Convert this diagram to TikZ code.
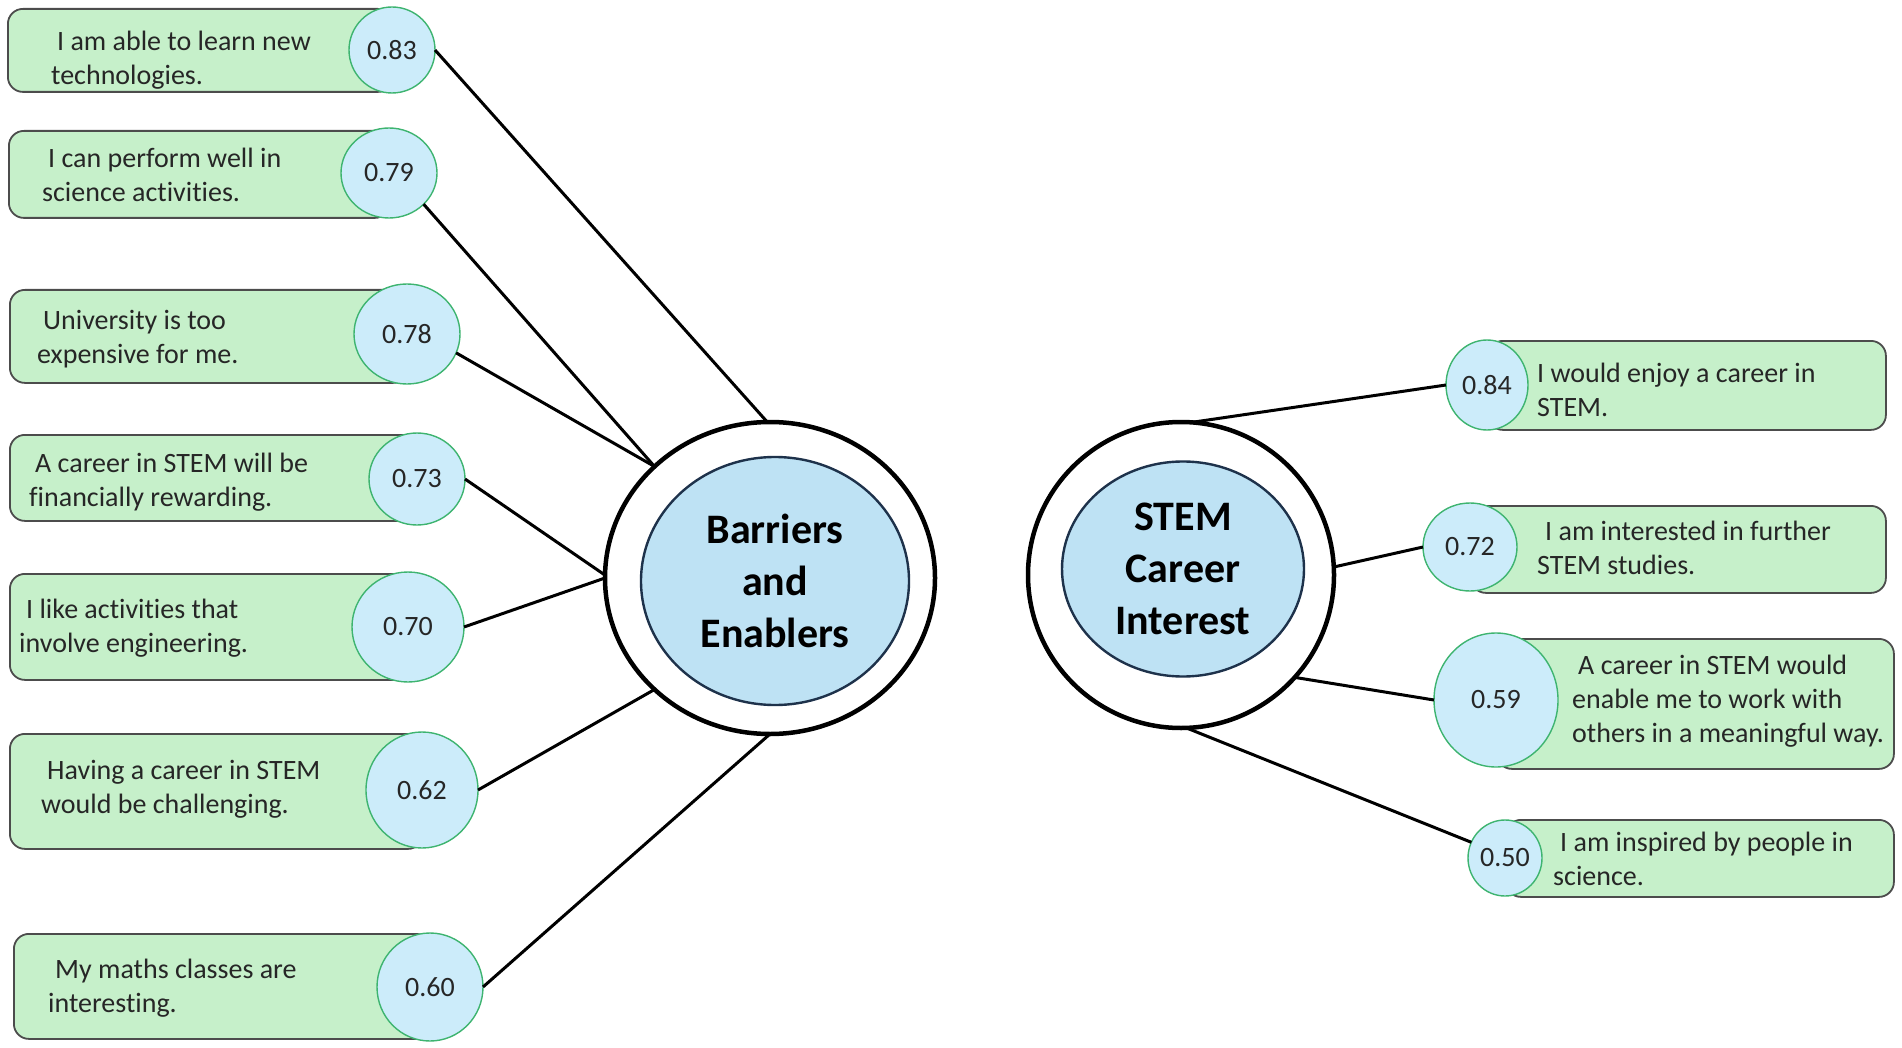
\documentclass[tikz,border=0pt]{standalone}
\usepackage{fontspec}
\setmainfont{Carlito}[Ligatures=NoCommon]
\usetikzlibrary{shapes.geometric}
\definecolor{itemgreen}{RGB}{198,240,202}
\definecolor{loadblue}{RGB}{204,236,250}
\definecolor{loadedge}{RGB}{62,180,112}
\definecolor{factorblue}{RGB}{190,226,244}
\definecolor{factoredge}{RGB}{30,50,75}
\tikzset{
  itembox/.style={draw=black!70, line width=1.8pt, fill=itemgreen,
    rounded corners=15pt, anchor=north west, inner sep=0pt},
  loading/.style={ellipse, draw=loadedge, line width=1.4pt, fill=loadblue,
    inner sep=0pt, outer sep=0pt, text=black!85,
    font=\fontsize{28}{34}\selectfont},
  itemtext/.style={anchor=west, align=left, inner sep=0pt, text=black!85,
    font=\fontsize{28}{34}\selectfont},
  factorout/.style={ellipse, draw=black, line width=4.5pt, fill=white,
    inner sep=0pt, outer sep=0pt},
  factorin/.style={ellipse, draw=factoredge, line width=2.4pt,
    fill=factorblue, inner sep=0pt, align=center,
    font=\bfseries\fontsize{42}{52}\selectfont},
  link/.style={line width=3pt, black}
}
\begin{document}
\begin{tikzpicture}[x=1pt, y=-1pt]
  \useasboundingbox (0,0) rectangle (1902,1048);
  % left items
  \node[itembox, minimum width=385pt, minimum height=83pt] (box1) at (7,8) {};
  \node[loading, minimum width=86pt, minimum height=86pt] (c83) at (392,50) {0.83};
  \node[itemtext] (txt1) at (51,60) {\hspace*{6pt}I am able to learn new\\technologies.};
  \node[itembox, minimum width=381pt, minimum height=87pt] (box2) at (8,130) {};
  \node[loading, minimum width=96pt, minimum height=90pt] (c79) at (389,173) {0.79};
  \node[itemtext] (txt2) at (42,175) {\hspace*{6pt}I can perform well in\\science activities.};
  \node[itembox, minimum width=398pt, minimum height=93pt] (box3) at (9,289) {};
  \node[loading, minimum width=106pt, minimum height=100pt] (c78) at (407,334) {0.78};
  \node[itemtext] (txt3) at (37,339) {\hspace*{6pt}University is too\\expensive for me.};
  \node[itembox, minimum width=408pt, minimum height=86pt] (box4) at (9,434) {};
  \node[loading, minimum width=96pt, minimum height=92pt] (c73) at (417,479) {0.73};
  \node[itemtext] (txt4) at (29,482) {\hspace*{6pt}A career in STEM will be\\financially rewarding.};
  \node[itembox, minimum width=399pt, minimum height=106pt] (box5) at (9,573) {};
  \node[loading, minimum width=112pt, minimum height=110pt] (c70) at (408,627) {0.70};
  \node[itemtext] (txt5) at (19,628) {\hspace*{7pt}I like activities that\\involve engineering.};
  \node[itembox, minimum width=413pt, minimum height=115pt] (box6) at (9,733) {};
  \node[loading, minimum width=112pt, minimum height=116pt] (c62) at (422,790) {0.62};
  \node[itemtext] (txt6) at (41,789) {\hspace*{6pt}Having a career in STEM\\would be challenging.};
  \node[itembox, minimum width=417pt, minimum height=105pt] (box7) at (13,933) {};
  \node[loading, minimum width=106pt, minimum height=108pt] (c60) at (430,987) {0.60};
  \node[itemtext] (txt7) at (48,988) {\hspace*{7pt}My maths classes are\\interesting.};
  % right items
  \node[itembox, minimum width=398pt, minimum height=89pt] (rbox1) at (1487,340) {};
  \node[loading, minimum width=82pt, minimum height=90pt] (c84) at (1487,385) {0.84};
  \node[itemtext] (rtxt1) at (1537,390) {I would enjoy a career in\\STEM.};
  \node[itembox, minimum width=415pt, minimum height=87pt] (rbox2) at (1470,505) {};
  \node[loading, minimum width=94pt, minimum height=88pt] (c72) at (1470,547) {0.72};
  \node[itemtext] (rtxt2) at (1537,548) {\hspace*{8pt}I am interested in further\\STEM studies.};
  \node[itembox, minimum width=397pt, minimum height=130pt] (rbox3) at (1496,638) {};
  \node[loading, minimum width=124pt, minimum height=134pt] (c59) at (1496,700) {0.59};
  \node[itemtext] (rtxt3) at (1572,701) {\hspace*{6pt}A career in STEM would\\enable me to work with\\others in a meaningful way.};
  \node[itembox, minimum width=388pt, minimum height=77pt] (rbox4) at (1505,819) {};
  \node[loading, minimum width=74pt, minimum height=76pt] (c50) at (1505,858) {0.50};
  \node[itemtext] (rtxt4) at (1553,859) {\hspace*{7pt}I am inspired by people in\\science.};
  % factors
  \node[factorout, minimum width=330pt, minimum height=312pt] (barout) at (770,578) {};
  \node[factorin, minimum width=268pt, minimum height=248pt] (barin) at (775,581) {Barriers\\and\\Enablers};
  \node[factorout, minimum width=306pt, minimum height=306pt] (stemout) at (1181,575) {};
  \node[factorin, minimum width=242pt, minimum height=215pt] (stemin) at (1183,569) {STEM\\Career\\Interest};
  % loadings
  \draw[link] (c83.east) -- (barout.91);
  \draw[link] (c79.-42) -- (barout.136);
  \draw[link] (c78.-21) -- (barout.136);
  \draw[link] (c73.east) -- (barout.179);
  \draw[link] (c70.east) -- (barout.180);
  \draw[link] (c62.east) -- (barout.224);
  \draw[link] (c60.east) -- (barout.270);
  \draw[link] (stemout.86) -- (c84.west);
  \draw[link] (stemout.3) -- (c72.west);
  \draw[link] (stemout.-42) -- (c59.west);
  \draw[link] (stemout.-88) -- (c50.155);
\end{tikzpicture}
\end{document}
